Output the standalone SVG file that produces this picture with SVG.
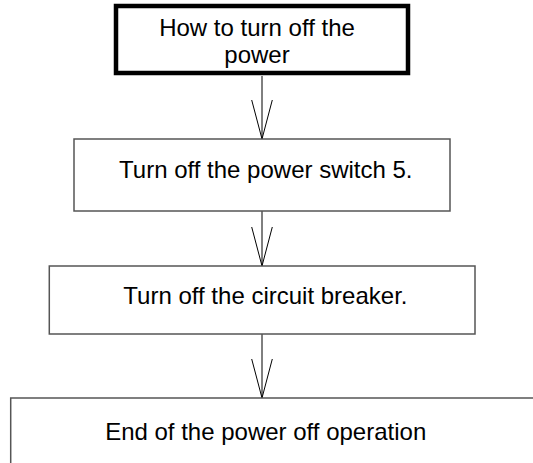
<svg xmlns="http://www.w3.org/2000/svg" width="533" height="463" viewBox="0 0 533 463">
<defs>
<style>
.box{fill:#fff;stroke:#555;stroke-width:1.5}
.start{fill:#fff;stroke:#000;stroke-width:4.5}
.t{font-family:"Liberation Sans",Arial,sans-serif;font-size:24px;fill:#000;text-anchor:middle}
.c{stroke:#000;stroke-width:1;fill:none}
</style>
</defs>
<rect width="533" height="463" fill="#fff"/>
<g id="connectors">
<path class="c" d="M262 76V139M251.7 100L262 139L272.3 100"/>
<path class="c" d="M262 211V266M251.7 227L262 266L272.3 227"/>
<path class="c" d="M262 334V398M251.7 359L262 398L272.3 359"/>
</g>
<g id="node1">
<rect class="start" x="116" y="6" width="292" height="67"/>
<text class="t" x="257" y="36">How to turn off the</text>
<text class="t" x="257" y="63">power</text>
</g>
<g id="node2">
<rect class="box" x="74" y="139" width="376" height="72"/>
<text class="t" x="265.8" y="178">Turn off the power switch 5.</text>
</g>
<g id="node3">
<rect class="box" x="49.3" y="266" width="425.7" height="68"/>
<text class="t" x="265.4" y="304">Turn off the circuit breaker.</text>
</g>
<g id="node4">
<rect class="box" x="10.7" y="398" width="540" height="100"/>
<text class="t" x="265.7" y="440">End of the power off operation</text>
</g>
</svg>
